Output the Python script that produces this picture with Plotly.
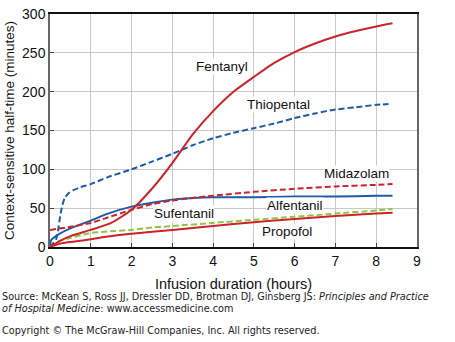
import plotly.graph_objects as go

# Data (hours, minutes)
fentanyl_x = [0, 0.25, 0.5, 1, 1.5, 2, 2.5, 3, 3.5, 4, 4.5, 5, 5.5, 6, 6.5, 7, 7.5, 8, 8.4]
fentanyl_y = [0, 8, 14, 22, 31, 48, 75, 108, 145, 175, 200, 219, 237, 251, 262, 271, 278, 284, 288]

thiopental_x = [0, 0.15, 0.2, 0.25, 0.3, 0.36, 0.45, 0.56, 0.75, 1, 1.42, 2, 2.5, 3, 3.5, 4, 4.5, 5, 5.5, 6, 6.5, 7, 7.5, 8, 8.3]
thiopental_y = [0, 10, 22, 40, 53, 63, 69, 73, 77, 81, 90, 100, 110, 120, 131, 140, 147, 153, 159, 166, 172, 177, 180, 183, 184]

midazolam_x = [0, 0.5, 1, 1.42, 2, 2.5, 3, 4, 5, 6, 7, 8, 8.4]
midazolam_y = [22, 26, 31, 38, 48, 55, 60, 66, 71, 75, 78, 80, 81]

alfentanil_x = [0, 0.03, 0.2, 0.5, 1, 1.42, 2, 2.5, 3, 3.5, 4, 5, 6, 7, 8, 8.4]
alfentanil_y = [0, 9, 16, 24, 34, 43, 52, 57, 61, 63, 64, 64, 65, 65, 66, 66]

propofol_x = [0, 0.1, 0.25, 0.44, 1, 1.42, 2, 2.5, 3, 4, 5, 6, 7, 8, 8.4]
propofol_y = [0, 4, 8, 11, 18, 20, 22, 25, 27, 31, 35, 39, 43, 47, 49]

sufentanil_x = [0, 0.1, 0.3, 0.6, 1, 1.42, 2, 3, 4, 5, 6, 7, 8, 8.4]
sufentanil_y = [0, 2, 5, 7, 10, 13.5, 17, 22, 27, 32, 36, 40, 43, 44]

label_names = ["Fentanyl", "Thiopental", "Midazolam", "Sufentanil", "Alfentanil", "Propofol"]
label_x = [4.23, 5.61, 7.52, 3.29, 6.01, 5.82]
label_y = [232, 184, 94, 43, 54, 20]

x_ticks = [0, 1, 2, 3, 4, 5, 6, 7, 8, 9]
y_ticks = [0, 50, 100, 150, 200, 250, 300]

RED = "#cc2229"
BLUE = "#1f5aa8"
GREEN = "#8dc63f"

fig = go.Figure()
series = [
    ("Sufentanil", sufentanil_x, sufentanil_y, RED, "solid"),
    ("Propofol", propofol_x, propofol_y, GREEN, "6px,3px"),
    ("Alfentanil", alfentanil_x, alfentanil_y, BLUE, "solid"),
    ("Midazolam", midazolam_x, midazolam_y, RED, "6px,3px"),
    ("Thiopental", thiopental_x, thiopental_y, BLUE, "6px,3px"),
    ("Fentanyl", fentanyl_x, fentanyl_y, RED, "solid"),
]
for name, xs, ys, col, dash in series:
    fig.add_trace(go.Scatter(
        x=xs, y=ys, name=name, mode="lines",
        line=dict(color=col, width=2, dash=dash, shape="spline", smoothing=0.6),
        showlegend=False, cliponaxis=False,
    ))

for n, lx, ly in zip(label_names, label_x, label_y):
    fig.add_annotation(x=lx, y=ly, text=n, showarrow=False,
                       font=dict(family="Liberation Sans, Arial", size=13.5, color="#111"),
                       bgcolor="white", borderpad=0)

foot_font = dict(family="DejaVu Sans, Verdana", size=9.7, color="#222")
fig.add_annotation(xref="paper", yref="paper", x=-50/367, y=(247-298)/241,
                   xanchor="left", yanchor="middle", showarrow=False, align="left",
                   text="Source: McKean S, Ross JJ, Dressler DD, Brotman DJ, Ginsberg JS: <i>Principles and Practice</i>",
                   font=foot_font)
fig.add_annotation(xref="paper", yref="paper", x=-50/367, y=(247-311)/241,
                   xanchor="left", yanchor="middle", showarrow=False, align="left",
                   text="<i>of Hospital Medicine</i>: www.accessmedicine.com",
                   font=foot_font)
fig.add_annotation(xref="paper", yref="paper", x=-50/367, y=(247-333)/241,
                   xanchor="left", yanchor="middle", showarrow=False, align="left",
                   text="Copyright © The McGraw-Hill Companies, Inc. All rights reserved.",
                   font=foot_font)

fig.update_layout(
    width=455, height=342,
    margin=dict(l=50, r=38, t=6, b=95),
    paper_bgcolor="white", plot_bgcolor="white",
    font=dict(family="Liberation Sans, Arial", size=14, color="#111"),
    xaxis=dict(range=[0, 9], tickvals=x_ticks, ticks="inside", ticklen=4,
               ticklabeloverflow="allow",
               showgrid=True, gridcolor="#c8c8c8", gridwidth=1,
               showline=True, linecolor="#111", linewidth=1.5, mirror=True,
               zeroline=False,
               title=dict(text="Infusion duration (hours)", font=dict(size=14.5), standoff=11)),
    yaxis=dict(range=[0, 300], tickvals=y_ticks, ticks="inside", ticklen=4,
               ticklabeloverflow="allow",
               showgrid=True, gridcolor="#c8c8c8", gridwidth=1,
               showline=True, linecolor="#666", linewidth=1.5, mirror=True,
               zeroline=False,
               title=dict(text="Context-sensitive half-time (minutes)", font=dict(size=13.5), standoff=4)),
)

fig.write_html("out.html")
